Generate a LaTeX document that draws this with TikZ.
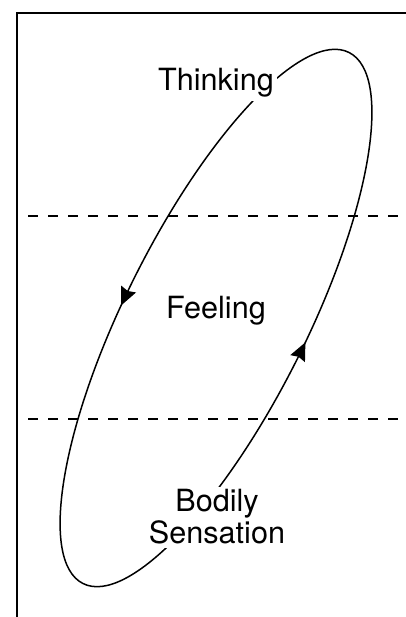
\documentclass[tikz,border=0pt]{standalone}
\usepackage{fontspec}
\setmainfont{TeX Gyre Heros}
\usepackage{tikz}
\usetikzlibrary{arrows.meta,decorations.markings}

\tikzset{
	zone/.style={anchor=base, fill=white, inner sep=1.5pt, font=\fontsize{15.3pt}{17pt}\selectfont},
	divider/.style={line width=0.9pt, dash pattern=on 4.8pt off 5.2pt, dash phase=4.5pt},
	looptip/.tip={Stealth[length=9pt,width=8pt,inset=1pt]}
}

\begin{document}
\begin{tikzpicture}[x=0.5pt,y=0.5pt]
	    \useasboundingbox (0,0) rectangle (406,617);
	    \draw[line width=1.1pt] (17,0) -- (17,604) -- (406,604);
	    \draw[divider] (17,401) -- (406,401);
	    \draw[divider] (17,198) -- (406,198);
	    \draw[line width=0.75pt, shift={(216,299)}, rotate=63.4,
	        postaction={decorate, decoration={markings,
	            mark=at position 0.274 with {\arrow{looptip}},
	            mark=at position 0.764 with {\arrow{looptip}}}}]
	        (0,0) ellipse [x radius=297, y radius=91];
	    \node[zone] (thinking) at (216,526) {Thinking};
	    \node[zone] (feeling) at (216,298) {Feeling};
	    \node[zone] (bodily) at (217,105) {Bodily};
	    \node[zone] (sensation) at (217,73) {Sensation};
	\end{tikzpicture}
\end{document}
